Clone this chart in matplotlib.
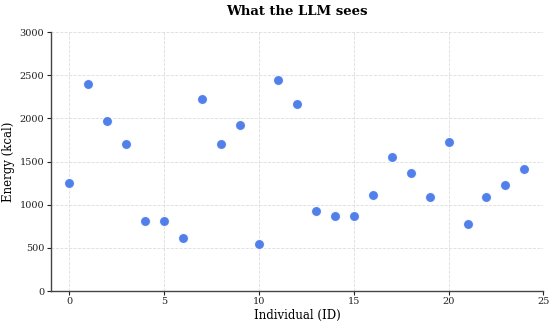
import numpy as np
import matplotlib.pyplot as plt

# data
ids = list(range(25))
energy = [1250, 2400, 1970, 1700, 810, 810, 615, 2230, 1700, 1920,
          545, 2440, 2170, 925, 865, 865, 1108, 1550, 1367, 1085,
          1726, 780, 1089, 1231, 1413]

plt.rcParams['font.family'] = ['DejaVu Serif']

fig, ax = plt.subplots(figsize=(5.55, 3.27), dpi=100)
ax.scatter(np.array(ids), np.array(energy), s=52, color='#3a6ee8',
           alpha=0.88, edgecolors='white', linewidths=0.8, zorder=3)

ax.set_xlim(-1, 25)
ax.set_ylim(0, 3000)
ax.set_xticks([0, 5, 10, 15, 20, 25])
ax.set_yticks(range(0, 3001, 500))
ax.tick_params(labelsize=7, length=3, width=0.8, pad=1.5, colors='#222222')
ax.grid(True, linestyle='--', color='#dddddd', linewidth=0.6)
ax.spines['top'].set_visible(False)
ax.spines['right'].set_visible(False)
for s in ('left', 'bottom'):
    ax.spines[s].set_color('#444444')
    ax.spines[s].set_linewidth(1.0)

ax.set_xlabel('Individual (ID)', fontsize=8.5, labelpad=2)
ax.set_ylabel('Energy (kcal)', fontsize=8.5, labelpad=3)
ax.set_title('What the LLM sees', fontsize=9.5, fontweight='bold', pad=12)

fig.subplots_adjust(left=0.091, right=0.979, top=0.902, bottom=0.11)
fig.savefig('out.png', dpi=100)
